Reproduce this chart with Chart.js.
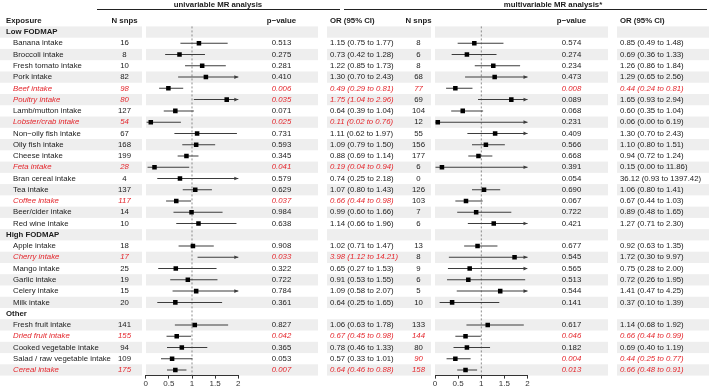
<!DOCTYPE html>
<html>
<head>
<meta charset="utf-8">
<script src="https://cdn.jsdelivr.net/npm/chart.js@4"></script>
<style>
  body { margin: 0; background: #fff; }
  #wrap { position: relative; width: 709px; height: 387px; }
  #wrap canvas { position: absolute; left: 0; top: 0; }
</style>
</head>
<body>
<div id="wrap">
  <canvas id="uniChart" width="709" height="387"></canvas>
  <canvas id="multiChart" width="709" height="387"></canvas>
</div>
<script>
const rows = [
  'Low FODMAP', 'Banana intake', 'Broccoli intake', 'Fresh tomato intake', 'Pork intake', 'Beef intake',
  'Poultry intake', 'Lamb/mutton intake', 'Lobster/crab intake', 'Non\u2212oily fish intake', 'Oily fish intake',
  'Cheese intake', 'Feta intake', 'Bran cereal intake', 'Tea intake', 'Coffee intake', 'Beer/cider intake',
  'Red wine intake', 'High FODMAP', 'Apple intake', 'Cherry intake', 'Mango intake', 'Garlic intake',
  'Celery intake', 'Milk intake', 'Other', 'Fresh fruit intake', 'Dried fruit intake', 'Cooked vegetable intake',
  'Salad / raw vegetable intake', 'Cereal intake'
]
const groups = ['Low FODMAP', 'High FODMAP', 'Other']

// univariable MR
const uniN = [null, 16, 8, 10, 82, 98, 80, 127, 54, 67, 168, 199, 28, 4, 137, 117, 14, 10,
  null, 18, 17, 25, 19, 15, 20, null, 141, 155, 94, 109, 175]
const uniP = [null, 0.513, 0.275, 0.281, 0.410, 0.006, 0.035, 0.071, 0.025, 0.731, 0.593, 0.345, 0.041, 0.579, 0.629, 0.037, 0.984, 0.638,
  null, 0.908, 0.033, 0.322, 0.722, 0.784, 0.361, null, 0.827, 0.042, 0.365, 0.053, 0.007]
const uniOR = [null, 1.15, 0.73, 1.22, 1.30, 0.49, 1.75, 0.64, 0.11, 1.11, 1.09, 0.88, 0.19, 0.74, 1.07, 0.66, 0.99, 1.14,
  null, 1.02, 3.98, 0.65, 0.91, 1.09, 0.64, null, 1.06, 0.67, 0.78, 0.57, 0.64]
const uniLow = [null, 0.75, 0.42, 0.85, 0.70, 0.29, 1.04, 0.39, 0.02, 0.62, 0.79, 0.69, 0.04, 0.25, 0.80, 0.44, 0.60, 0.66,
  null, 0.71, 1.12, 0.27, 0.53, 0.58, 0.25, null, 0.63, 0.45, 0.46, 0.33, 0.46]
const uniHigh = [null, 1.77, 1.28, 1.73, 2.43, 0.81, 2.96, 1.04, 0.76, 1.97, 1.50, 1.14, 0.94, 2.18, 1.43, 0.98, 1.66, 1.96,
  null, 1.47, 14.21, 1.53, 1.55, 2.07, 1.65, null, 1.78, 0.98, 1.33, 1.01, 0.88]

// multivariable MR
const multiN = [null, 8, 6, 8, 68, 77, 69, 104, 12, 55, 156, 177, 6, 0, 126, 103, 7, 6,
  null, 13, 8, 9, 6, 5, 10, null, 133, 144, 80, 90, 158]
const multiP = [null, 0.574, 0.274, 0.234, 0.473, 0.008, 0.089, 0.068, 0.231, 0.409, 0.566, 0.668, 0.391, 0.054, 0.690, 0.067, 0.722, 0.421,
  null, 0.677, 0.545, 0.565, 0.513, 0.544, 0.141, null, 0.617, 0.046, 0.182, 0.004, 0.013]
const multiOR = [null, 0.85, 0.69, 1.26, 1.29, 0.44, 1.65, 0.60, 0.06, 1.30, 1.10, 0.94, 0.15, 36.12, 1.06, 0.67, 0.89, 1.27,
  null, 0.92, 1.72, 0.75, 0.72, 1.41, 0.37, null, 1.14, 0.66, 0.69, 0.44, 0.66]
const multiLow = [null, 0.49, 0.36, 0.86, 0.65, 0.24, 0.93, 0.35, 0.00, 0.70, 0.80, 0.72, 0.00, 0.93, 0.80, 0.44, 0.48, 0.71,
  null, 0.63, 0.30, 0.28, 0.26, 0.47, 0.10, null, 0.68, 0.44, 0.40, 0.25, 0.48]
const multiHigh = [null, 1.48, 1.33, 1.84, 2.56, 0.81, 2.94, 1.04, 6.19, 2.43, 1.51, 1.24, 11.86, 1397.42, 1.41, 1.03, 1.65, 2.30,
  null, 1.35, 9.97, 2.00, 1.95, 4.25, 1.39, null, 1.92, 0.99, 1.19, 0.77, 0.91]

const xTicks = [0, 0.5, 1, 1.5, 2]
const xTickLabels = ['0', '0.5', '1', '1.5', '2']

const FONT = '"Liberation Sans", Arial, sans-serif'
const FS = 7.8
const TEXT = '#1c1c1c'
const RED = '#e4262c'
const LINE = '#3c3c3c'
const BAND = '#eeeeee'

Chart.defaults.font.family = FONT

function orText(i, est, lo, hi) {
  return `${est[i].toFixed(2)} (${lo[i].toFixed(2)} to ${hi[i].toFixed(2)})`
}

function put(ctx, text, x, y, align, font, color) {
  ctx.font = font
  ctx.fillStyle = color
  ctx.textAlign = align
  ctx.textBaseline = 'middle'
  ctx.fillText(text, x, y)
}

function forestPlugin(high, n) {
  return {
    id: 'forest',
    beforeDatasetsDraw(chart) {
      const { ctx, chartArea, scales: { x } } = chart
      const px = x.getPixelForValue(1)
      ctx.save()
      ctx.strokeStyle = '#707070'
      ctx.lineWidth = 0.8
      ctx.setLineDash([2, 2])
      ctx.beginPath()
      ctx.moveTo(px, chartArea.top)
      ctx.lineTo(px, chartArea.bottom)
      ctx.stroke()
      ctx.restore()
    },
    afterDatasetsDraw(chart) {
      // arrow heads where the CI runs past the axis end
      const { ctx, scales: { x, y } } = chart
      const xr = x.getPixelForValue(x.max)
      ctx.save()
      ctx.fillStyle = LINE
      high.forEach((hi, i) => {
        if (hi == null || !n[i] || hi < x.max) return
        const yy = y.getPixelForValue(i)
        ctx.beginPath()
        ctx.moveTo(xr, yy)
        ctx.lineTo(xr - 4, yy - 1.8)
        ctx.lineTo(xr - 4, yy + 1.8)
        ctx.closePath()
        ctx.fill()
      })
      ctx.restore()
    },
    afterDraw(chart) {
      // axis numbers, placed on the scale's own tick positions
      const { ctx, chartArea, scales: { x } } = chart
      ctx.save()
      xTicks.forEach((v, i) => {
        put(ctx, xTickLabels[i], x.getPixelForValue(v), chartArea.bottom + 8.5, 'center', `8px ${FONT}`, '#333')
      })
      ctx.restore()
    }
  }
}

const tablePlugin = {
  id: 'table',
  beforeDraw(chart) {
    const { ctx, scales: { y } } = chart
    const h = y.getPixelForValue(1) - y.getPixelForValue(0)
    const segs = [[0, 142], [146, 318], [327, 431], [435, 608], [617, 709]]
    ctx.save()
    ctx.fillStyle = BAND
    rows.forEach((r, i) => {
      if (i % 2) return
      const top = y.getPixelForValue(i) - h / 2
      segs.forEach(([a, b]) => ctx.fillRect(a, top, b - a, h))
    })
    ctx.restore()
  },
  afterDraw(chart) {
    const { ctx, scales: { y } } = chart
    const h = y.getPixelForValue(1) - y.getPixelForValue(0)
    const reg = `${FS}px ${FONT}`
    const ital = `italic ${FS}px ${FONT}`
    const bold = `bold ${FS}px ${FONT}`
    ctx.save()

    put(ctx, 'univariable MR analysis', 218, 4.5, 'center', bold, TEXT)
    put(ctx, 'multivariable MR analysis*', 553, 4.5, 'center', bold, TEXT)
    ctx.strokeStyle = '#222'
    ctx.lineWidth = 1
    ctx.beginPath()
    ctx.moveTo(97, 9.5); ctx.lineTo(340, 9.5)
    ctx.moveTo(344, 9.5); ctx.lineTo(707, 9.5)
    ctx.stroke()

    const hy = y.getPixelForValue(0) - h
    put(ctx, 'Exposure', 6, hy, 'left', bold, TEXT)
    put(ctx, 'N snps', 124.5, hy, 'center', bold, TEXT)
    put(ctx, 'p\u2212value', 281.5, hy, 'center', bold, TEXT)
    put(ctx, 'OR (95% CI)', 330, hy, 'left', bold, TEXT)
    put(ctx, 'N snps', 418.5, hy, 'center', bold, TEXT)
    put(ctx, 'p\u2212value', 571.5, hy, 'center', bold, TEXT)
    put(ctx, 'OR (95% CI)', 620, hy, 'left', bold, TEXT)

    rows.forEach((r, i) => {
      const yy = y.getPixelForValue(i)
      if (groups.includes(r)) {
        put(ctx, r, 6, yy, 'left', bold, TEXT)
        return
      }
      const uSig = uniP[i] < 0.05
      const mSig = multiP[i] < 0.05
      const uf = uSig ? ital : reg, uc = uSig ? RED : TEXT
      const mf = mSig ? ital : reg, mc = mSig ? RED : TEXT
      put(ctx, r, 13, yy, 'left', uf, uc)
      put(ctx, String(uniN[i]), 124.5, yy, 'center', uf, uc)
      put(ctx, uniP[i].toFixed(3), 281.5, yy, 'center', uf, uc)
      put(ctx, orText(i, uniOR, uniLow, uniHigh), 330, yy, 'left', uf, uc)
      put(ctx, String(multiN[i]), 418.5, yy, 'center', mf, mc)
      put(ctx, multiP[i].toFixed(3), 571.5, yy, 'center', mf, mc)
      put(ctx, orText(i, multiOR, multiLow, multiHigh), 620, yy, 'left', mf, mc)
    })
    ctx.restore()
  }
}

function makeChart(id, est, lo, hi, n, padLeft, padRight, extra) {
  return new Chart(document.getElementById(id), {
    type: 'bar',
    data: {
      labels: rows,
      datasets: [
        {
          type: 'scatter',
          data: rows.map((r, i) => ({ x: n[i] ? est[i] : null, y: r })),
          pointStyle: 'rect',
          pointRadius: 3.2,
          backgroundColor: '#000',
          borderWidth: 0
        },
        {
          data: rows.map((r, i) => (n[i] ? [lo[i], hi[i]] : null)),
          backgroundColor: LINE,
          barThickness: 1,
          inflateAmount: 0,
          borderWidth: 0
        }
      ]
    },
    options: {
      indexAxis: 'y',
      responsive: false,
      animation: false,
      events: [],
      layout: { padding: { left: padLeft, right: padRight, top: 26.4, bottom: 0 } },
      plugins: { legend: { display: false }, tooltip: { enabled: false } },
      scales: {
        y: { display: false },
        x: {
          type: 'linear',
          min: xTicks[0],
          max: xTicks[xTicks.length - 1],
          afterBuildTicks(scale) { scale.ticks = xTicks.map((v) => ({ value: v })) },
          ticks: { font: { size: 8 }, color: 'rgba(0,0,0,0)', padding: 1, autoSkip: false, maxRotation: 0 },
          grid: { drawOnChartArea: false, tickLength: 3, color: '#333' },
          border: { color: '#333' },
          afterFit(scale) { scale.height = 11.4 }
        }
      }
    },
    plugins: [forestPlugin(hi, n)].concat(extra || [])
  })
}

makeChart('uniChart', uniOR, uniLow, uniHigh, uniN, 145.7, 709 - 238.3, [tablePlugin])
makeChart('multiChart', multiOR, multiLow, multiHigh, multiN, 435, 709 - 527.5)
</script>
</body>
</html>
